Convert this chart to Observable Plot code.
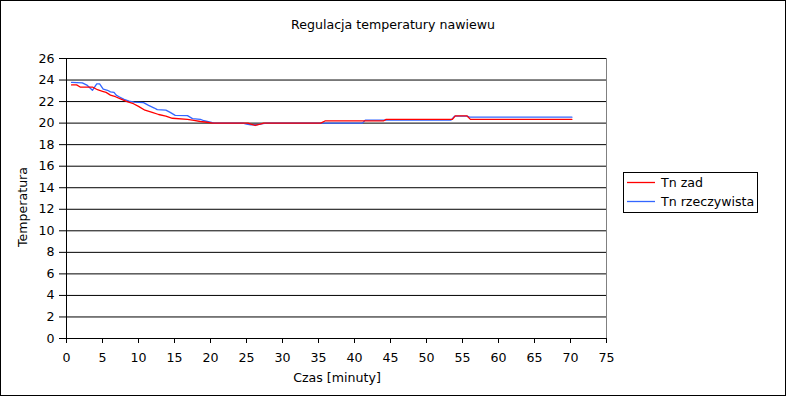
<!DOCTYPE html>
<html>
<head>
<meta charset="utf-8">
<script src="https://cdn.jsdelivr.net/npm/d3@7"></script>
<script src="https://cdn.jsdelivr.net/npm/@observablehq/plot@0.6"></script>
<style>
  body { margin: 0; background: #fff; }
  #wrap { position: relative; width: 786px; height: 396px; }
  #frame { position: absolute; left: 0; top: 0; width: 786px; height: 396px; box-sizing: border-box; border: 1px solid #000; pointer-events: none; }
</style>
</head>
<body>
<div id="wrap"><div id="frame"></div></div>
<script>
// ---- chart text ----
const chartTitle = "Regulacja temperatury nawiewu";
const xLabel = "Czas [minuty]";
const yLabel = "Temperatura";
const seriesNames = ["Tn zad", "Tn rzeczywista"];
const seriesColors = ["#ff0000", "#3366ff"];

// ---- tick labels ----
const xTicks = [0, 5, 10, 15, 20, 25, 30, 35, 40, 45, 50, 55, 60, 65, 70, 75];
const yTicks = [0, 2, 4, 6, 8, 10, 12, 14, 16, 18, 20, 22, 24, 26];

// ---- series: Tn zad ----
const zadTime = [0.7, 1.4, 1.9, 3.6, 4.3, 5.0, 5.5, 6.1, 6.8, 7.5, 8.4, 9.3, 10.0, 10.9, 11.9, 12.8, 13.8, 14.7, 16.8, 17.7, 18.6, 19.5, 20.3, 25.2, 25.6, 26.2, 26.9, 27.4, 35.3, 35.9, 44.0, 44.4, 53.6, 54.0, 55.6, 56.1, 70.2];
const zadTemp = [23.55, 23.55, 23.35, 23.35, 23.1, 22.95, 22.85, 22.6, 22.45, 22.25, 22.0, 21.8, 21.55, 21.2, 21.0, 20.8, 20.65, 20.45, 20.35, 20.25, 20.15, 20.08, 20.0, 20.0, 19.9, 19.78, 19.9, 20.0, 20.0, 20.2, 20.2, 20.35, 20.35, 20.68, 20.68, 20.35, 20.35];

// ---- series: Tn rzeczywista ----
const rzeczTime = [0.7, 2.2, 2.9, 3.6, 4.2, 4.6, 5.1, 5.7, 6.1, 6.6, 6.9, 7.3, 8.0, 8.7, 9.4, 10.7, 11.4, 12.2, 12.6, 13.8, 14.4, 15.1, 16.8, 17.5, 18.6, 19.1, 20.0, 20.5, 24.5, 25.0, 25.6, 26.5, 27.3, 27.8, 41.1, 41.5, 53.4, 53.9, 55.6, 56.0, 70.2];
const rzeczTemp = [23.78, 23.74, 23.5, 23.05, 23.65, 23.65, 23.15, 23.05, 22.9, 22.85, 22.6, 22.45, 22.2, 22.05, 21.95, 21.9, 21.65, 21.4, 21.25, 21.2, 21.0, 20.72, 20.7, 20.42, 20.34, 20.22, 20.09, 20.0, 20.0, 19.9, 19.85, 19.85, 19.95, 20.0, 20.0, 20.28, 20.28, 20.65, 20.65, 20.55, 20.55];

const zad = zadTime.map((t, i) => ({t, v: zadTemp[i]}));
const rzecz = rzeczTime.map((t, i) => ({t, v: rzeczTemp[i]}));

const FONT = "DejaVu Sans";
const FS = "12.6px";

const chart = Plot.plot({
  width: 786,
  height: 396,
  marginLeft: 66,
  marginRight: 180,
  marginTop: 58,
  marginBottom: 58,
  style: {fontFamily: FONT, fontSize: FS, color: "#000", background: "transparent"},
  x: {domain: [0, 75]},
  y: {domain: [0, 26]},
  marks: [
    Plot.gridY(yTicks, {stroke: "#000", strokeOpacity: 1, strokeWidth: 1}),
    Plot.ruleX([75], {stroke: "#808080", strokeWidth: 1, y1: 0, y2: 26}),
    Plot.ruleX([0], {stroke: "#000", strokeWidth: 1}),
    Plot.axisY(yTicks, {tickSize: 7, tickPadding: 5, label: null, stroke: "#000"}),
    Plot.axisX(xTicks, {tickSize: 5, tickPadding: 10, label: null, stroke: "#000"}),
    Plot.line(rzecz, {x: "t", y: "v", stroke: seriesColors[1], strokeWidth: 1.3}),
    Plot.line(zad, {x: "t", y: "v", stroke: seriesColors[0], strokeWidth: 1.3})
  ]
});

const svg = d3.select(chart);
const txt = (x, y, s, anchor) => svg.append("text")
  .attr("x", x).attr("y", y).attr("text-anchor", anchor || "start")
  .attr("fill", "#000").style("font-family", FONT).style("font-size", FS).text(s);

txt(393, 28.5, chartTitle, "middle");
txt(337, 382, xLabel, "middle");
svg.append("text")
  .attr("transform", "translate(27,207) rotate(-90)")
  .attr("text-anchor", "middle").attr("fill", "#000")
  .style("font-family", FONT).style("font-size", FS).text(yLabel);

// legend
const lg = svg.append("g").attr("text-anchor", "start");
lg.append("rect").attr("x", 623.5).attr("y", 172.5).attr("width", 134).attr("height", 40)
  .attr("fill", "#fff").attr("stroke", "#000");
seriesNames.forEach((name, i) => {
  const yy = 182.5 + i * 19;
  lg.append("line").attr("x1", 627).attr("x2", 655).attr("y1", yy).attr("y2", yy)
    .attr("stroke", seriesColors[i]).attr("stroke-width", 1.3);
  lg.append("text").attr("x", 661).attr("y", yy + 4.5).attr("fill", "#000")
    .attr("text-anchor", "start").style("text-anchor", "start")
    .style("font-family", FONT).style("font-size", FS).text(name);
});

document.getElementById("wrap").insertBefore(chart, document.getElementById("frame"));
</script>
</body>
</html>
